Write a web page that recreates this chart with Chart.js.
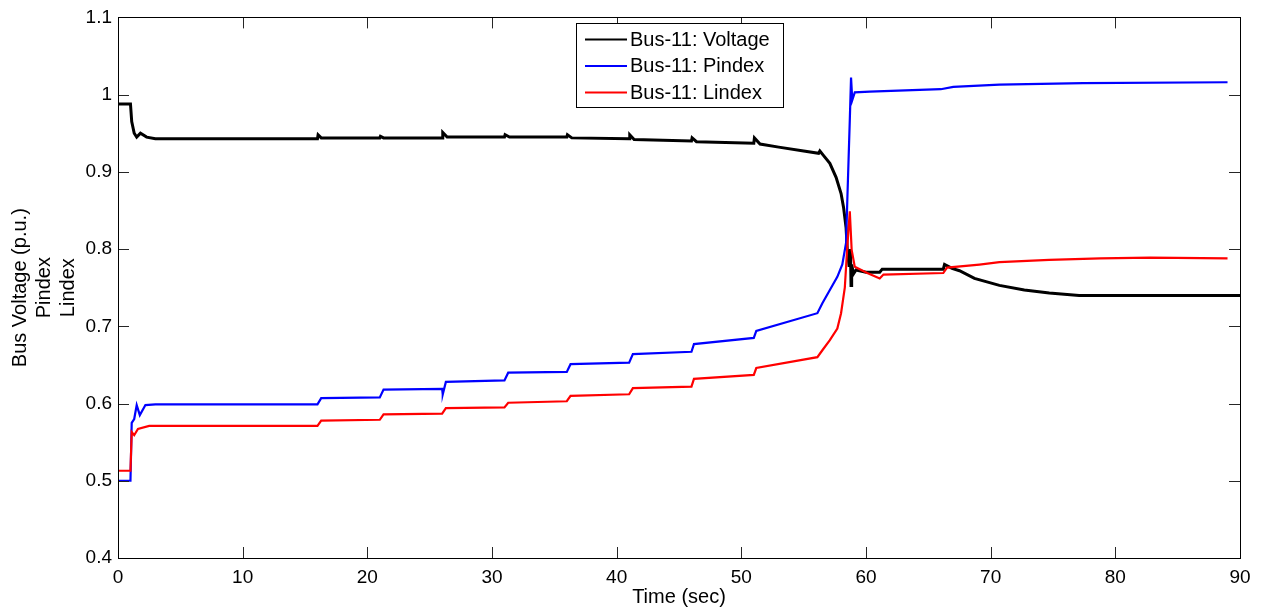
<!DOCTYPE html>
<html>
<head>
<meta charset="utf-8">
<script src="https://cdn.jsdelivr.net/npm/chart.js@4.4.1/dist/chart.umd.min.js"></script>
<style>
    html, body { margin: 0; padding: 0; background: #fff; }
    #wrap { width: 1263px; height: 615px; }
</style>
</head>
<body>
<div id="wrap"><canvas id="busChart" width="1263" height="615"></canvas></div>
<script>
// valores [tempo (s), valor]
const voltage = [
    [0, 0.988], [1.0, 0.988], [1.1, 0.965], [1.3, 0.950], [1.5, 0.945], [1.8, 0.950], [2.3, 0.945], [3, 0.943],
    [16, 0.943], [16.05, 0.948], [16.3, 0.944], [21, 0.944], [21.05, 0.946], [21.3, 0.944],
    [26, 0.944], [26.05, 0.951], [26.4, 0.945], [31, 0.945], [31.05, 0.948], [31.4, 0.945],
    [36, 0.945], [36.05, 0.948], [36.4, 0.944], [41, 0.943], [41.05, 0.948], [41.4, 0.942],
    [46, 0.940], [46.05, 0.944], [46.4, 0.939], [51, 0.937], [51.05, 0.944], [51.5, 0.936],
    [53, 0.932], [55, 0.927], [56.2, 0.924], [56.3, 0.927], [56.6, 0.921], [57.1, 0.911],
    [57.6, 0.893], [58.0, 0.872], [58.2, 0.854], [58.4, 0.828], [58.5, 0.799], [58.65, 0.777],
    [58.75, 0.800], [58.8, 0.753], [58.85, 0.780], [59.0, 0.768], [59.2, 0.773], [60, 0.770],
    [61.1, 0.770], [61.3, 0.774], [66.2, 0.774], [66.3, 0.780], [66.9, 0.775], [67.5, 0.772],
    [68.7, 0.762], [70.7, 0.753], [72.7, 0.747], [74.7, 0.743], [77.1, 0.740], [80, 0.740], [90, 0.740]
];
const pindex = [
    [0, 0.500], [1.0, 0.500], [1.1, 0.575], [1.3, 0.580], [1.5, 0.598], [1.75, 0.585], [2.2, 0.598], [3, 0.599],
    [16, 0.599], [16.3, 0.607], [21, 0.608], [21.3, 0.618], [26, 0.619], [26.05, 0.612], [26.3, 0.628],
    [31, 0.630], [31.3, 0.640], [36, 0.641], [36.3, 0.651], [41, 0.653], [41.3, 0.664], [46, 0.667],
    [46.2, 0.677], [51, 0.685], [51.2, 0.694], [56.1, 0.717], [56.5, 0.730], [57.1, 0.747], [57.7, 0.764],
    [58.1, 0.780], [58.4, 0.808], [58.5, 0.863], [58.6, 0.915], [58.7, 0.967], [58.8, 1.022], [58.9, 0.993],
    [59.1, 1.003], [60.3, 1.004], [66, 1.007], [67, 1.010], [70.7, 1.013], [77.4, 1.015], [89, 1.016]
];
const lindex = [
    [0, 0.513], [1.0, 0.513], [1.1, 0.563], [1.3, 0.559], [1.6, 0.567], [2.5, 0.571], [16, 0.571],
    [16.3, 0.578], [21, 0.579], [21.3, 0.586], [26, 0.587], [26.3, 0.594], [31, 0.595], [31.3, 0.601],
    [36, 0.603], [36.3, 0.610], [41, 0.612], [41.3, 0.620], [46, 0.622], [46.2, 0.632], [51, 0.637],
    [51.2, 0.646], [56.1, 0.660], [56.5, 0.669], [57.1, 0.682], [57.7, 0.697], [58.0, 0.717], [58.3, 0.750],
    [58.5, 0.803], [58.7, 0.849], [58.85, 0.799], [59.1, 0.777], [60.1, 0.769], [61.1, 0.762], [61.4, 0.767],
    [66.2, 0.769], [66.5, 0.776], [69.1, 0.780], [70.7, 0.783], [74.7, 0.786], [78.8, 0.788], [82.8, 0.789], [89, 0.788]
];
const seriesNames = ['Bus-11: Voltage', 'Bus-11: Pindex', 'Bus-11: Lindex'];
const seriesColors = ['#000000', '#0000ff', '#ff0000'];
const xTicks = [0, 10, 20, 30, 40, 50, 60, 70, 80, 90];
const yTicks = [0.4, 0.5, 0.6, 0.7, 0.8, 0.9, 1, 1.1];
const yTitle = ['Bus Voltage (p.u.)', 'Pindex', 'Lindex'];
const xTitle = 'Time (sec)';

const FONT = 'Liberation Sans, Arial, Helvetica, sans-serif';

function toPoints(arr) {
    return arr.map(p => ({ x: p[0], y: p[1] }));
}

// moldura estilo MATLAB: caixa, ticks para dentro e legenda dentro do gráfico
const matlabFrame = {
    id: 'matlabFrame',
    afterDraw(chart) {
        const ctx = chart.ctx;
        const a = chart.chartArea;
        const xs = chart.scales.x, ys = chart.scales.y;
        const tl = 11;
        ctx.save();
        ctx.strokeStyle = '#262626';
        ctx.lineWidth = 1;
        ctx.beginPath();
        xTicks.forEach(v => {
            const px = Math.round(xs.getPixelForValue(v)) + 0.5;
            ctx.moveTo(px, a.bottom); ctx.lineTo(px, a.bottom - tl);
            ctx.moveTo(px, a.top); ctx.lineTo(px, a.top + tl);
        });
        yTicks.forEach(v => {
            const py = Math.round(ys.getPixelForValue(v)) + 0.5;
            ctx.moveTo(a.left, py); ctx.lineTo(a.left + tl, py);
            ctx.moveTo(a.right, py); ctx.lineTo(a.right - tl, py);
        });
        ctx.stroke();
        ctx.strokeStyle = '#000';
        ctx.strokeRect(Math.round(a.left) + 0.5, Math.round(a.top) + 0.5,
            Math.round(a.right - a.left), Math.round(a.bottom - a.top));

        // legenda
        const lx = a.left + 458, ly = a.top + 6, lw = 207, lh = 84;
        ctx.fillStyle = '#fff';
        ctx.fillRect(lx, ly, lw, lh);
        ctx.strokeStyle = '#000';
        ctx.strokeRect(Math.round(lx) + 0.5, Math.round(ly) + 0.5, lw, lh);
        ctx.font = '20px ' + FONT;
        ctx.textBaseline = 'middle';
        chart.data.datasets.forEach((ds, i) => {
            const cy = ly + 16 + i * 26.5;
            ctx.strokeStyle = ds.borderColor;
            ctx.lineWidth = 2;
            ctx.beginPath();
            ctx.moveTo(lx + 9, cy); ctx.lineTo(lx + 51, cy);
            ctx.stroke();
            ctx.fillStyle = '#000';
            ctx.fillText(ds.label, lx + 54, cy + 1);
        });
        ctx.restore();
    }
};

document.addEventListener('DOMContentLoaded', function() {
    const ctx = document.getElementById('busChart').getContext('2d');
    const series = [voltage, pindex, lindex];

    new Chart(ctx, {
        type: 'line',
        data: {
            datasets: series.map((s, i) => ({
                label: seriesNames[i],
                data: toPoints(s),
                borderColor: seriesColors[i],
                borderWidth: i === 0 ? 3 : 2.2,
                pointRadius: 0,
                tension: 0,
                fill: false,
                order: 3 - i
            }))
        },
        options: {
            responsive: false,
            animation: false,
            events: [],
            layout: { padding: { top: 17, right: 23, left: 0, bottom: 0 } },
            plugins: {
                legend: { display: false },
                tooltip: { enabled: false }
            },
            scales: {
                x: {
                    type: 'linear',
                    min: 0,
                    max: 90,
                    afterFit: scale => { scale.height = 57; },
                    afterBuildTicks: scale => { scale.ticks = xTicks.map(v => ({ value: v })); },
                    grid: { display: false, drawTicks: false },
                    border: { display: false },
                    ticks: { color: '#000', padding: 8, maxRotation: 0, font: { family: FONT, size: 19 } },
                    title: {
                        display: true, text: xTitle, color: '#000',
                        font: { family: FONT, size: 20, lineHeight: 1.2 }, padding: { top: 0, bottom: 6 }
                    }
                },
                y: {
                    type: 'linear',
                    min: 0.4,
                    max: 1.1,
                    afterFit: scale => { scale.width = 118; },
                    afterBuildTicks: scale => { scale.ticks = yTicks.map(v => ({ value: v })); },
                    grid: { display: false, drawTicks: false },
                    border: { display: false },
                    ticks: {
                        color: '#000', padding: 6, font: { family: FONT, size: 19 },
                        callback: v => String(Math.round(v * 10) / 10)
                    },
                    title: {
                        display: true, text: yTitle, color: '#000',
                        font: { family: FONT, size: 20, lineHeight: 1.2 }, padding: { top: 8, bottom: 4 }
                    }
                }
            }
        },
        plugins: [matlabFrame]
    });
});
</script>
</body>
</html>
